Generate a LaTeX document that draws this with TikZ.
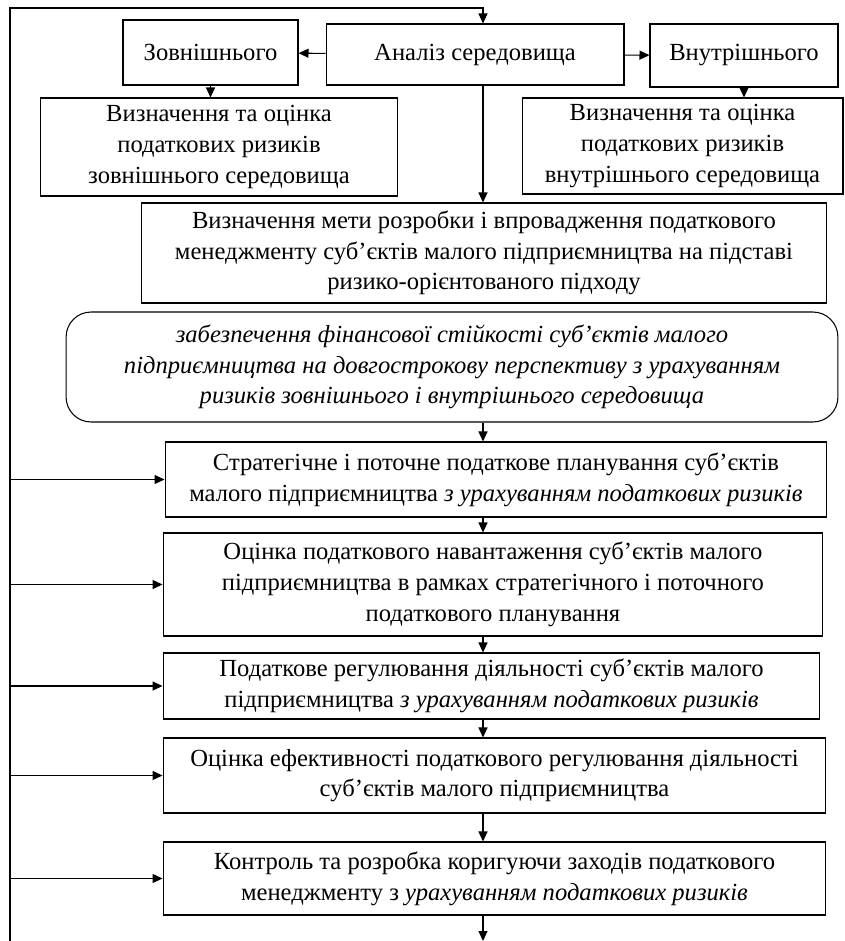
\documentclass[tikz,border=0pt]{standalone}
\usepackage{fontspec}
\setmainfont{Liberation Serif}
\usetikzlibrary{arrows.meta}

\begin{document}
\begin{tikzpicture}[x=0.02cm,y=-0.02cm,
    line width=0.6pt,
    >={Triangle[length=2mm,width=1.8mm]},
    box/.style={draw,align=center,inner sep=2pt,font=\fontsize{14}{17.5}\selectfont},
    roundbox/.style={box,rounded corners=0.5cm}]
  \useasboundingbox (0,0) rectangle (845,941);

  \coordinate (spine) at (483,0);
  \coordinate (topleft) at (10,8);
  \coordinate (botleft) at (10,941);
  \coordinate (botend) at (483,941);

  \node[box,minimum width=5.96cm,minimum height=1.22cm] (anal) at (475,54.5) {Аналіз середовища};
  \node[box,minimum width=3.5cm,minimum height=1.3cm] (zovn) at (210.5,52.5) {Зовнішнього};
  \node[box,minimum width=3.76cm,minimum height=1.26cm] (vnutr) at (744,55.5) {Внутрішнього};

  \node[box,minimum width=7.16cm,minimum height=1.96cm] (zovnrisk) at (219,147)
    {Визначення та оцінка\\податкових ризиків\\зовнішнього середовища};
  \node[box,minimum width=6.42cm,minimum height=1.92cm] (vnutrrisk) at (682.5,146)
    {Визначення та оцінка\\податкових ризиків\\внутрішнього середовища};

  \node[box,minimum width=13.72cm,minimum height=2cm] (meta) at (484,253)
    {Визначення мети розробки і впровадження податкового\\менеджменту суб’єктів малого підприємництва на підставі\\ризико-орієнтованого підходу};
  \node[roundbox,minimum width=15.44cm,minimum height=2.2cm] (zabezp) at (452,367)
    {\itshape забезпечення фінансової стійкості суб’єктів малого\\\itshape підприємництва на довгострокову перспективу з урахуванням\\\itshape ризиків зовнішнього і внутрішнього середовища};

  \node[box,minimum width=13.24cm,minimum height=1.5cm] (plan) at (496,479.5)
    {Стратегічне і поточне податкове планування суб’єктів\\малого підприємництва \textit{з урахуванням податкових ризиків}};
  \node[box,minimum width=13.2cm,minimum height=2.06cm] (navant) at (493,584.5)
    {Оцінка податкового навантаження суб’єктів малого\\підприємництва в рамках стратегічного і поточного\\податкового планування};
  \node[box,minimum width=13.14cm,minimum height=1.32cm] (regul) at (491.5,686)
    {Податкове регулювання діяльності суб’єктів малого\\підприємництва \textit{з урахуванням податкових ризиків}};
  \node[box,minimum width=13.26cm,minimum height=1.5cm] (efekt) at (494.5,775.5)
    {Оцінка ефективності податкового регулювання діяльності\\суб’єктів малого підприємництва};
  \node[box,minimum width=13.26cm,minimum height=1.46cm] (kontrol) at (494.5,878.5)
    {Контроль та розробка коригуючи заходів податкового\\менеджменту з \textit{урахуванням податкових ризиків}};

  % environment analysis
  \draw[->] (anal) -- (zovn);
  \draw[->] (anal) -- (vnutr);
  \draw[->] (zovn.south) -- (zovn.south |- zovnrisk.north);
  \draw[->] (vnutr.south) -- (vnutr.south |- vnutrrisk.north);

  % main chain
  \draw[->] (anal.south -| spine) -- (meta.north -| spine);
  \draw[->] (zabezp.south -| spine) -- (plan.north -| spine);
  \draw[->] (plan.south -| spine) -- (navant.north -| spine);
  \draw[->] (navant.south -| spine) -- (regul.north -| spine);
  \draw[->] (regul.south -| spine) -- (efekt.north -| spine);
  \draw[->] (efekt.south -| spine) -- (kontrol.north -| spine);
  \draw[->] (kontrol.south -| spine) -- (botend);

  % feedback loop
  \draw[->] (botleft) -- (topleft) -- (topleft -| spine) -- (anal.north -| spine);
  \foreach \n in {plan,navant,regul,efekt,kontrol}
    \draw[->] (\n.west -| topleft) -- (\n.west);
\end{tikzpicture}
\end{document}
